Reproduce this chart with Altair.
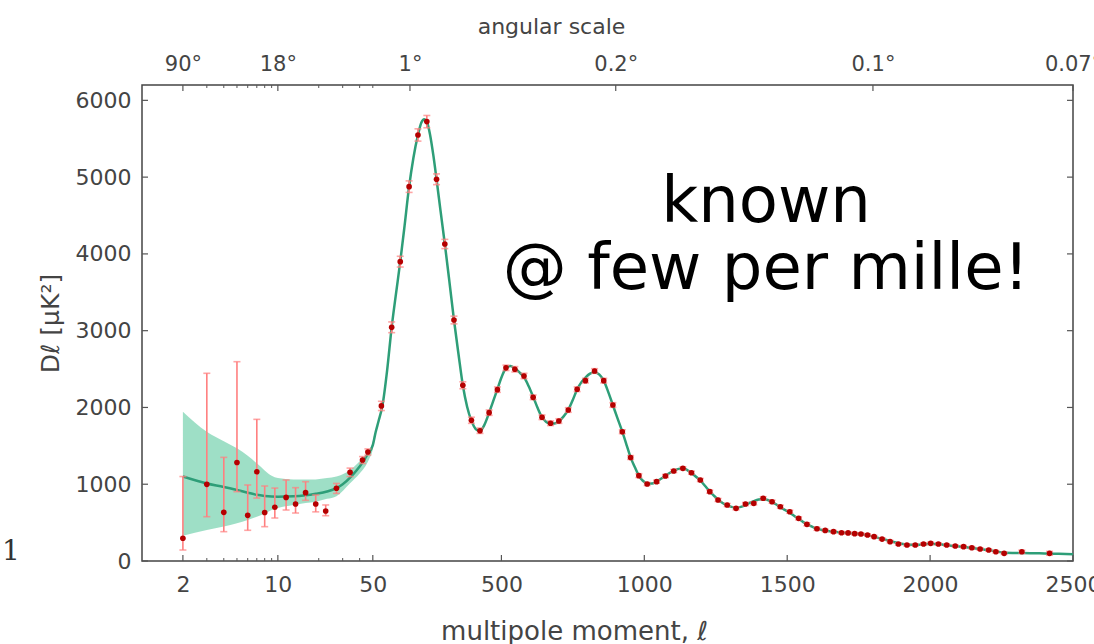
import altair as alt
import pandas as pd
import numpy as np

# ---------------- data ----------------
theory_ell = [2, 3, 4, 5, 6, 7, 8, 10, 13, 16, 19, 23, 27, 30, 35, 40, 45, 50, 60, 70, 84, 100,
              116, 130, 146, 160, 177, 192, 208, 220, 230, 239, 250, 262, 273, 287, 302, 318,
              334, 350, 365, 380, 395, 410, 425, 440, 457, 470, 486, 500, 515, 532, 550, 565,
              577, 595, 611, 626, 641, 656, 672, 686, 701, 717, 734, 750, 765, 780, 794, 810,
              826, 842, 858, 874, 890, 906, 923, 938, 952, 967, 981, 995, 1010, 1027, 1043,
              1060, 1074, 1090, 1103, 1120, 1135, 1150, 1165, 1180, 1196, 1212, 1229, 1244,
              1258, 1274, 1290, 1305, 1321, 1338, 1354, 1370, 1383, 1400, 1416, 1432, 1447,
              1462, 1476, 1492, 1509, 1524, 1540, 1555, 1569, 1585, 1604, 1633, 1662, 1690,
              1720, 1750, 1780, 1810, 1840, 1870, 1900, 1930, 1960, 1990, 2020, 2050, 2080,
              2110, 2140, 2170, 2200, 2230, 2260, 2300, 2350, 2400, 2450, 2500]
theory_dl = [1100, 1010, 965, 925, 890, 862, 848, 838, 842, 855, 875, 905, 950, 1000, 1110, 1230,
             1370, 1510, 1680, 1820, 2030, 2480, 3044, 3450, 3899, 4330, 4876, 5250, 5549, 5710,
             5755, 5723, 5560, 5280, 4972, 4560, 4129, 3640, 3139, 2690, 2289, 2010, 1828, 1720,
             1695, 1770, 1932, 2070, 2237, 2390, 2505, 2540, 2500, 2450, 2405, 2280, 2140, 2000,
             1880, 1815, 1790, 1790, 1820, 1880, 1970, 2100, 2235, 2330, 2390, 2440, 2460, 2430,
             2350, 2200, 2030, 1860, 1684, 1510, 1350, 1220, 1110, 1045, 1010, 1010, 1035, 1075,
             1110, 1150, 1175, 1200, 1205, 1185, 1150, 1100, 1050, 980, 905, 850, 800, 755, 725,
             705, 695, 705, 730, 760, 780, 800, 805, 795, 770, 735, 700, 665, 630, 590, 550, 510,
             480, 450, 420, 397, 380, 370, 362, 353, 337, 310, 280, 250, 224, 212, 212, 220, 220,
             210, 197, 186, 173, 158, 143, 125, 108, 105, 102, 98, 93, 88]

band_ell = [2, 3, 4, 5, 6, 7, 8, 9, 10, 13, 16, 19, 23, 27, 34, 40, 43, 47, 50, 55]
band_lo = [330, 404, 450, 491, 535, 577, 620, 664, 690, 729, 755, 772, 810, 845, 1012, 1140,
           1207, 1330, 1460, 1590]
band_hi = [1945, 1684, 1560, 1468, 1370, 1272, 1180, 1110, 1080, 1062, 1060, 1062, 1080, 1100,
           1185, 1300, 1358, 1440, 1560, 1650]

low_ell = [2, 3, 4, 5, 6, 7, 8, 9.5, 11.5, 13.5, 16, 19, 22.5, 27, 34, 42, 46]
low_dl = [296, 999, 634, 1283, 595, 1163, 632, 700, 828, 742, 890, 742, 651, 947, 1155, 1316, 1420]
low_lo = [143, 577, 382, 903, 400, 820, 447, 560, 664, 625, 790, 640, 590, 880, 1100, 1270, 1380]
low_hi = [1100, 2445, 1350, 2596, 990, 1845, 977, 950, 1055, 955, 1033, 860, 730, 1010, 1210,
          1360, 1460]

high_ell = [80, 116, 146, 177, 208, 239, 273, 302, 334, 365,
            395, 425, 457, 486, 516, 547, 579, 611, 642, 672,
            701, 734, 765, 794, 826, 858, 890, 923, 952, 981,
            1010, 1043, 1074, 1103, 1135, 1165, 1196, 1229, 1258, 1290,
            1321, 1354, 1383, 1416, 1447, 1476, 1509, 1540, 1569, 1604,
            1633, 1662, 1690, 1713, 1736, 1758, 1781, 1804, 1832, 1860,
            1889, 1919, 1948, 1977, 2002, 2029, 2058, 2088, 2117, 2146,
            2175, 2205, 2230, 2259, 2321, 2418]
high_dl = [2020, 3044, 3899, 4876, 5549, 5723, 4972, 4129, 3139, 2289,
           1833, 1697, 1932, 2232, 2516, 2497, 2410, 2132, 1872, 1794,
           1823, 1967, 2237, 2349, 2475, 2349, 2032, 1684, 1348, 1112,
           1003, 1033, 1107, 1172, 1207, 1150, 1055, 903, 795, 729,
           686, 742, 751, 817, 772, 707, 642, 556, 478, 420,
           398, 382, 368, 366, 356, 352, 339, 317, 285, 252,
           222, 208, 208, 221, 230, 221, 208, 195, 187, 173,
           156, 143, 121, 100, 121, 100]
high_err = [60, 70, 70, 75, 80, 80, 70, 60, 50, 45,
            40, 35, 35, 35, 35, 35, 35, 30, 30, 30,
            30, 30, 30, 30, 30, 30, 30, 25, 25, 25,
            20, 20, 20, 20, 20, 20, 20, 20, 20, 20,
            20, 20, 20, 20, 20, 20, 20, 20, 20, 20,
            15, 15, 15, 15, 15, 15, 15, 15, 15, 15,
            15, 15, 15, 15, 15, 15, 15, 15, 15, 15,
            15, 15, 15, 15, 20, 25]

x_major = [2, 10, 50, 500, 1000, 1500, 2000, 2500]
x_major_labels = ["2", "10", "50", "500", "1000", "1500", "2000", "2500"]
x_minor = [3, 4, 5, 6, 7, 8, 9, 20, 30, 40]
top_major = [2, 10, 180, 900, 1800, 2500]
top_labels = ["90°", "18°", "1°", "0.2°", "0.1°", "0.07°"]
top_minor = [3, 4, 5, 6, 7, 8, 9, 20, 30, 40, 50]
y_ticks = [0, 1000, 2000, 3000, 4000, 5000, 6000]

# ---------------- hybrid scale: log below l=50, linear above ----------------
LOGU, SPLIT, LINU = 136.0, 50.0, 0.2861
XMAX = LOGU * np.log10(SPLIT) + (2500 - SPLIT) * LINU
CALC = (f"datum.ell <= {SPLIT} ? {LOGU}*log(datum.ell)/LN10 : "
        f"{LOGU}*log({SPLIT})/LN10 + (datum.ell-{SPLIT})*{LINU}")


def hpos(vals):
    out = []
    for v in vals:
        if v <= SPLIT:
            out.append(LOGU * np.log10(v))
        else:
            out.append(LOGU * np.log10(SPLIT) + (v - SPLIT) * LINU)
    return [float(p) for p in out]


def label_expr(positions, labels):
    expr = f"'{labels[-1]}'"
    for i in range(len(positions) - 2, -1, -1):
        thr = (positions[i] + positions[i + 1]) / 2
        expr = f"datum.value < {thr:.3f} ? '{labels[i]}' : ({expr})"
    return expr


W, H = 931, 476
FONT = "DejaVu Sans"
GREY = "#444444"
xscale = alt.Scale(domain=[0, XMAX], nice=False, zero=False)
yscale = alt.Scale(domain=[0, 6200], nice=False, zero=True)

bottom_axis = alt.Axis(
    orient="bottom", values=hpos(x_major), labelExpr=label_expr(hpos(x_major), x_major_labels),
    ticks=False, domain=False, grid=False, labelFlush=False, labelOverlap=False,
    labelFont=FONT, labelFontSize=22, labelColor=GREY, labelPadding=13,
    title="multipole moment, ℓ", titleFont=FONT, titleFontSize=26, titleFontWeight="normal",
    titleColor=GREY, titleX=432, titleY=78, titleAlign="center", titleBaseline="alphabetic")

y_axis = alt.Axis(
    values=y_ticks, format="d", ticks=False, domain=False, grid=False,
    labelFont=FONT, labelFontSize=22, labelColor=GREY, labelPadding=11,
    title="Dℓ [μK²]", titleFont=FONT, titleFontSize=25, titleFontWeight="normal",
    titleColor=GREY, titleX=-92, titleY=H / 2, titleAngle=270, titleAlign="center",
    titleBaseline="middle")


def X(axis=bottom_axis):
    return alt.X("pos:Q", scale=xscale, axis=axis)


def Yf(field):
    return alt.Y(field, scale=yscale, axis=y_axis)


theory_df = pd.DataFrame({"ell": theory_ell, "D": theory_dl})
band_df = pd.DataFrame({"ell": band_ell, "lo": band_lo, "hi": band_hi})
pts_df = pd.concat([
    pd.DataFrame({"ell": low_ell, "D": low_dl, "lo": low_lo, "hi": low_hi}),
    pd.DataFrame({"ell": high_ell, "D": high_dl,
                  "lo": np.array(high_dl) - np.array(high_err),
                  "hi": np.array(high_dl) + np.array(high_err)}),
], ignore_index=True)

band = alt.Chart(band_df).transform_calculate(pos=CALC).mark_area(
    color="#94dcc0", opacity=0.9, interpolate="monotone").encode(
    x=X(), y=Yf("lo:Q"), y2="hi:Q")

line = alt.Chart(theory_df).transform_calculate(pos=CALC).mark_line(
    color="#2e9e78", strokeWidth=2.5, interpolate="monotone").encode(
    x=X(), y=Yf("D:Q"))

ERRC = "#ff7f7f"
err = alt.Chart(pts_df).transform_calculate(pos=CALC).mark_rule(
    color=ERRC, strokeWidth=1.6).encode(x=X(), y=Yf("lo:Q"), y2="hi:Q")
cap_lo = alt.Chart(pts_df).transform_calculate(pos=CALC).mark_tick(
    orient="horizontal", color=ERRC, size=7, thickness=1.6).encode(x=X(), y=Yf("lo:Q"))
cap_hi = alt.Chart(pts_df).transform_calculate(pos=CALC).mark_tick(
    orient="horizontal", color=ERRC, size=7, thickness=1.6).encode(x=X(), y=Yf("hi:Q"))
pts = alt.Chart(pts_df).transform_calculate(pos=CALC).mark_point(
    filled=True, shape="circle", size=32, color="#b50000", opacity=1).encode(
    x=X(), y=Yf("D:Q"))

# inward tick marks on all four sides
TICK = "#555555"
bmaj = alt.Chart(pd.DataFrame({"ell": x_major})).transform_calculate(pos=CALC).mark_rule(
    color=TICK, strokeWidth=1.2).encode(x=X(), y=alt.value(H), y2=alt.value(H - 6))
bmin = alt.Chart(pd.DataFrame({"ell": x_minor})).transform_calculate(pos=CALC).mark_rule(
    color=TICK, strokeWidth=1).encode(x=X(), y=alt.value(H), y2=alt.value(H - 3))
tmaj = alt.Chart(pd.DataFrame({"ell": top_major})).transform_calculate(pos=CALC).mark_rule(
    color=TICK, strokeWidth=1.2).encode(x=X(), y=alt.value(0), y2=alt.value(6))
tmin = alt.Chart(pd.DataFrame({"ell": top_minor})).transform_calculate(pos=CALC).mark_rule(
    color=TICK, strokeWidth=1).encode(x=X(), y=alt.value(0), y2=alt.value(3))
lt = alt.Chart(pd.DataFrame({"D": y_ticks})).mark_rule(color=TICK, strokeWidth=1.2).encode(
    y=Yf("D:Q"), x=alt.value(0), x2=alt.value(6))
rt = alt.Chart(pd.DataFrame({"D": y_ticks})).mark_rule(color=TICK, strokeWidth=1.2).encode(
    y=Yf("D:Q"), x=alt.value(W), x2=alt.value(W - 6))

note_df = pd.DataFrame({"t": ["known", "@ few per mille!"], "px": [624, 624], "py": [137, 204]})
notes = alt.Chart(note_df).mark_text(
    font=FONT, fontSize=64, color="black", align="center", baseline="alphabetic").encode(
    text="t:N", x=alt.X("px:Q", scale=None), y=alt.Y("py:Q", scale=None))

one = alt.Chart(pd.DataFrame({"t": ["1"]})).mark_text(
    font="DejaVu Serif", fontSize=28, color="#333333", align="center",
    baseline="alphabetic").encode(text="t:N", x=alt.value(-131), y=alt.value(475))

main = alt.layer(band, line, err, cap_lo, cap_hi, pts, bmaj, bmin, tmaj, tmin, lt, rt, notes, one)

top_axis = alt.Axis(
    orient="top", values=hpos(top_major), labelExpr=label_expr(hpos(top_major), top_labels),
    ticks=False, domain=False, grid=False, labelFlush=False, labelOverlap=False,
    labelFont=FONT, labelFontSize=21, labelColor=GREY, labelPadding=11,
    title="angular scale", titleFont=FONT, titleFontSize=22, titleFontWeight="normal",
    titleColor=GREY, titleX=409, titleY=-52, titleAlign="center", titleBaseline="alphabetic")

top = alt.Chart(pd.DataFrame({"ell": top_major, "D": [0] * len(top_major)})).transform_calculate(
    pos=CALC).mark_point(opacity=0).encode(x=X(top_axis), y=Yf("D:Q"))

chart = alt.layer(main, top).resolve_scale(x="independent").properties(
    width=W, height=H,
    autosize=alt.AutoSizeParams(type="none"),
    padding={"left": 142, "top": 85, "right": 21, "bottom": 83},
    background="white",
).configure_view(stroke="#444444", strokeWidth=1.5)

chart.save("out.html", embed_options={"renderer": "svg", "actions": False})
